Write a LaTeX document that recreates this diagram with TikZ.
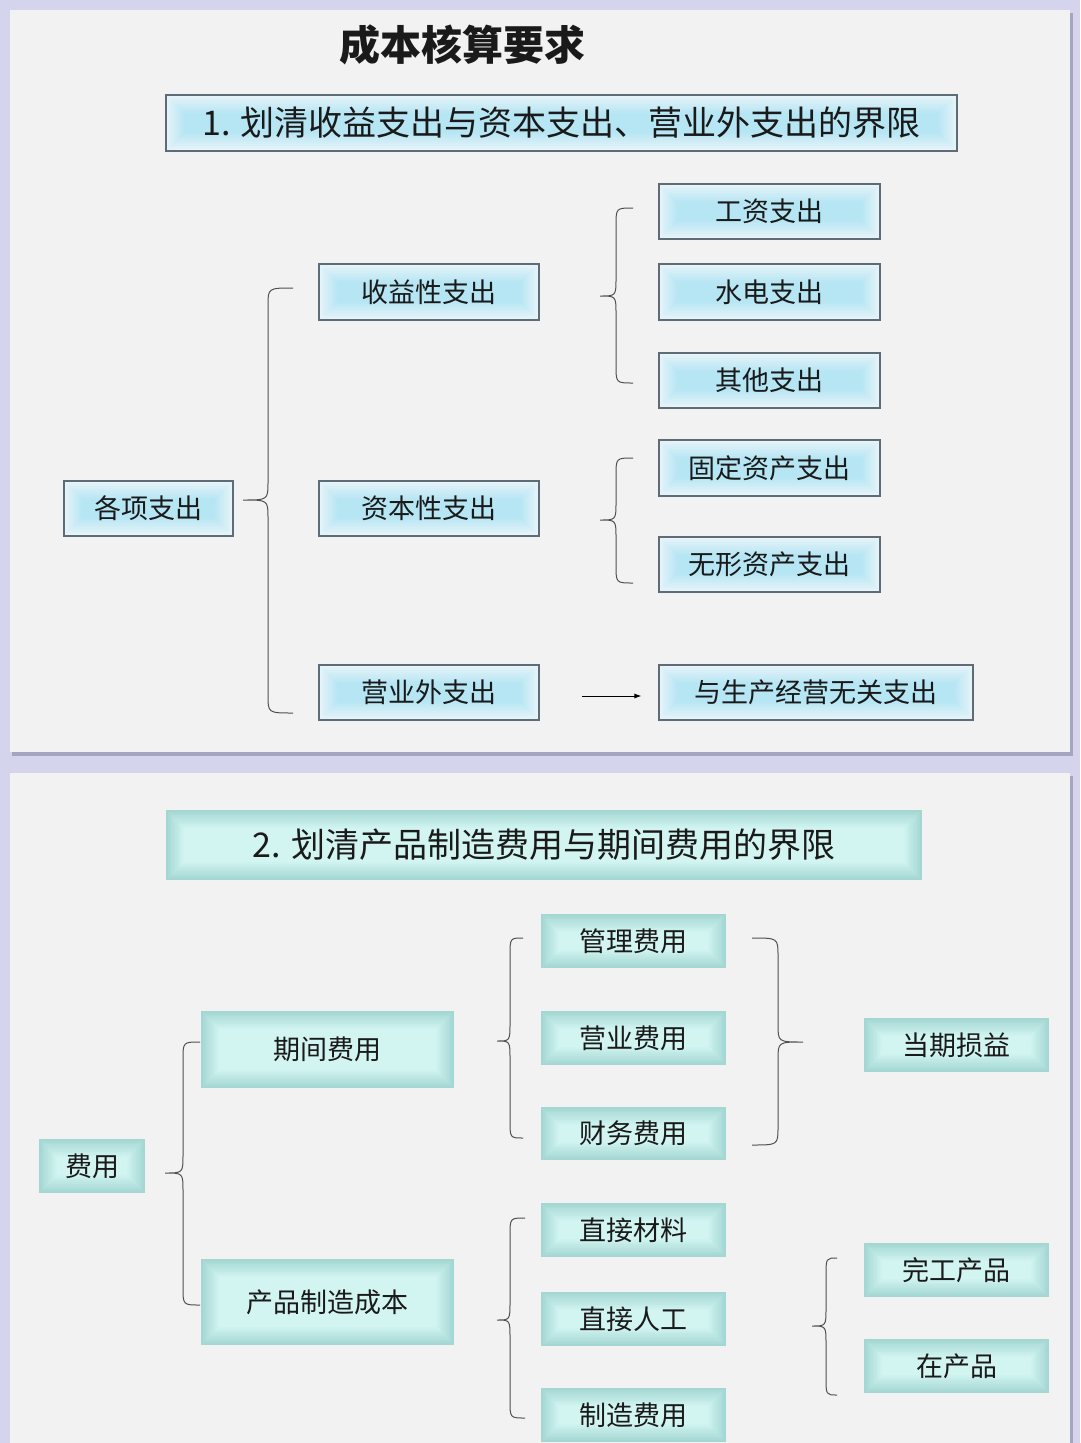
\documentclass[tikz,border=0pt]{standalone}
\usepackage{fontspec}
\setmainfont{Noto Sans CJK SC}
\usetikzlibrary{arrows.meta}
\definecolor{bgc}{HTML}{D4D5EC}
\definecolor{panelc}{HTML}{F2F2F2}
\definecolor{shadowc}{HTML}{A4A5C0}
\definecolor{bordc}{HTML}{5E6C78}
\definecolor{blueedge}{HTML}{E6F4F8}
\definecolor{bluemid}{HTML}{B6E5F4}
\definecolor{tealedge}{HTML}{A4D7D3}
\definecolor{tealmid}{HTML}{D2F5F2}
\definecolor{txtc}{HTML}{1A1A1A}
\definecolor{bracec}{HTML}{505050}
\newcommand\mybrace[6]{%
  \draw[bracepath] (#1,#4) .. controls (#2,#4) .. (#2,{#4+18}) -- (#2,{#5-18})
    .. controls (#2,#5) .. (#3,#5) .. controls (#2,#5) .. (#2,{#5+18})
    -- (#2,{#6-18}) .. controls (#2,#6) .. (#1,#6);}
\tikzset{
  glowfill/.style 2 args={fill=#1, path picture={
    \foreach \i in {1,...,10}{
      \pgfmathtruncatemacro\p{\i*10}
      \fill[#2!\p!#1] ([xshift=\i*1.8pt, yshift=-\i*1.8pt]path picture bounding box.north west)
        rectangle ([xshift=-\i*1.8pt, yshift=\i*1.8pt]path picture bounding box.south east);
    }}},
  bluebox/.style={draw=bordc, line width=1.1pt, glowfill={blueedge}{bluemid},
    inner sep=0pt, text=txtc, font=\fontsize{27}{30}\selectfont},
  tealbox/.style={glowfill={tealedge}{tealmid},
    inner sep=0pt, text=txtc, font=\fontsize{27}{30}\selectfont},
  bracepath/.style={draw=bracec, line width=1pt},
  arrowline/.style={draw=black, line width=1pt, -{Latex[length=7pt,width=5pt]}, shorten >=17pt},
}
\begin{document}
\begin{tikzpicture}[x=1pt,y=-1pt]
\useasboundingbox (0,0) rectangle (1080,1443);
\fill[bgc] (0,0) rectangle (1080,1443);
% panels
\fill[shadowc] (12,13) rectangle (1073,756);
\fill[panelc] (10,10) rectangle (1070,752);
\fill[shadowc] (12,776) rectangle (1073,1443);
\fill[panelc] (10,773) rectangle (1070,1443);

% ---- panel 1 ----
\node[text=txtc, font=\fontsize{41}{44}\selectfont\bfseries] (title) at (462,45) {成本核算要求};
\node[bluebox, minimum width=791pt, minimum height=56pt, font=\fontsize{34}{36}\selectfont] (t1) at (561.5,123) {1. 划清收益支出与资本支出、营业外支出的界限};
\node[bluebox, minimum width=169pt, minimum height=55pt] (gx) at (148.5,508.5) {各项支出};
\node[bluebox, minimum width=220pt, minimum height=56pt] (sy) at (429,292) {收益性支出};
\node[bluebox, minimum width=220pt, minimum height=55pt] (zb) at (429,508.5) {资本性支出};
\node[bluebox, minimum width=220pt, minimum height=55pt] (yy) at (429,692.5) {营业外支出};
\node[bluebox, minimum width=221pt, minimum height=55pt] (gz) at (769.5,211.5) {工资支出};
\node[bluebox, minimum width=221pt, minimum height=56pt] (sd) at (769.5,292) {水电支出};
\node[bluebox, minimum width=221pt, minimum height=55pt] (qt) at (769.5,380.5) {其他支出};
\node[bluebox, minimum width=221pt, minimum height=56pt] (gd) at (769.5,468) {固定资产支出};
\node[bluebox, minimum width=221pt, minimum height=55pt] (wx) at (769.5,564.5) {无形资产支出};
\node[bluebox, minimum width=314pt, minimum height=55pt] (wg) at (816,692.5) {与生产经营无关支出};
\coordinate (arrstart) at (582,696);
\draw[arrowline] (arrstart) -- (wg.west |- arrstart);

\mybrace{293}{268}{243}{288}{500}{713}
\mybrace{633}{616}{600}{208}{296}{383}
\mybrace{633}{616}{600}{458}{520}{583}

% ---- panel 2 ----
\node[tealbox, minimum width=756pt, minimum height=70pt, font=\fontsize{34}{36}\selectfont] (t2) at (544,845) {2. 划清产品制造费用与期间费用的界限};
\node[tealbox, minimum width=106pt, minimum height=54pt] (fy) at (92,1166) {费用};
\node[tealbox, minimum width=253pt, minimum height=77pt] (qj) at (327.5,1049.5) {期间费用};
\node[tealbox, minimum width=253pt, minimum height=86pt] (cp) at (327.5,1302) {产品制造成本};
\node[tealbox, minimum width=185pt, minimum height=54pt] (gl) at (633.5,941) {管理费用};
\node[tealbox, minimum width=185pt, minimum height=54pt] (yyf) at (633.5,1038) {营业费用};
\node[tealbox, minimum width=185pt, minimum height=53pt] (cw) at (633.5,1133.5) {财务费用};
\node[tealbox, minimum width=185pt, minimum height=54pt] (dq) at (956.5,1045) {当期损益};
\node[tealbox, minimum width=185pt, minimum height=54pt] (zjcl) at (633.5,1230) {直接材料};
\node[tealbox, minimum width=185pt, minimum height=54pt] (zjrg) at (633.5,1319) {直接人工};
\node[tealbox, minimum width=185pt, minimum height=54pt] (zzfy) at (633.5,1415) {制造费用};
\node[tealbox, minimum width=185pt, minimum height=54pt] (wgcp) at (956.5,1270) {完工产品};
\node[tealbox, minimum width=185pt, minimum height=54pt] (zcp) at (956.5,1366) {在产品};

\mybrace{200}{183}{165}{1042}{1173}{1305}
\mybrace{523}{510}{497}{938}{1041}{1138}
\mybrace{752}{778}{803}{938}{1042}{1145}
\mybrace{525}{510}{497}{1218}{1320}{1418}
\mybrace{837}{826}{812}{1258}{1326}{1395}
\end{tikzpicture}
\end{document}
